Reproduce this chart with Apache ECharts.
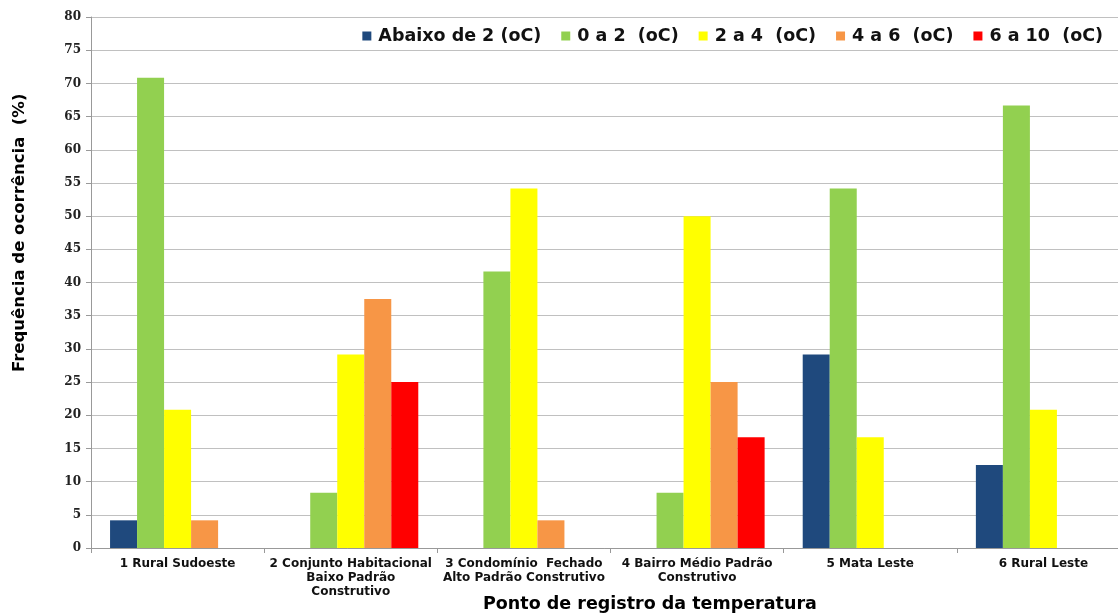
<!DOCTYPE html>
<html><head><meta charset="utf-8">
<script src="https://cdn.jsdelivr.net/npm/echarts@6/dist/echarts.min.js"></script>
<style>html,body{margin:0;padding:0;background:#fff}#c{width:1118px;height:615px}</style>
</head><body><div id="c"></div>
<script>
var categories = ['1 Rural Sudoeste','2 Conjunto Habitacional\nBaixo Padrão\nConstrutivo','3 Condomínio  Fechado\nAlto Padrão Construtivo','4 Bairro Médio Padrão\nConstrutivo','5 Mata Leste','6 Rural Leste'];
var seriesNames = ['Abaixo de 2 (oC)','0 a 2  (oC)','2 a 4  (oC)','4 a 6  (oC)','6 a 10  (oC)'];
var abaixo2 = [4.17, 0, 0, 0, 29.17, 12.5];
var de0a2 = [70.83, 8.33, 41.67, 8.33, 54.17, 66.67];
var de2a4 = [20.83, 29.17, 54.17, 50, 16.67, 20.83];
var de4a6 = [4.17, 37.5, 4.17, 25, 0, 0];
var de6a10 = [0, 25, 0, 16.67, 0, 0];
var colors = ['#1F497D','#92D050','#FFFF00','#F79646','#FF0000'];
var allData = [abaixo2, de0a2, de2a4, de4a6, de6a10];
var font = 'DejaVu Sans';
var chart = echarts.init(document.getElementById('c'));
chart.setOption({
  animation: false,
  color: colors,
  grid: {left: 91, width: 1039, top: 17, bottom: 67, outerBoundsMode: 'none', containLabel: false},
  legend: {
    right: 10, top: 22, itemWidth: 9, itemHeight: 9, itemGap: 20,
    icon: 'rect',
    textStyle: {fontFamily: font, fontWeight: 'bold', fontSize: 17.5, color: '#111', padding: [0,0,0,2]},
    data: seriesNames
  },
  xAxis: {
    type: 'category', data: categories,
    axisLine: {lineStyle: {color: '#999', width: 1}},
    axisTick: {show: true, length: 5, lineStyle: {color: '#999'}},
    axisLabel: {interval: 0, fontFamily: font, fontWeight: 'bold', fontSize: 12, color: '#111', lineHeight: 14, margin: 9}
  },
  yAxis: {
    type: 'value', min: 0, max: 80, interval: 5,
    axisLine: {show: true, lineStyle: {color: '#999'}},
    axisTick: {show: true, length: 5, lineStyle: {color: '#999'}},
    splitLine: {lineStyle: {color: '#c0c0c0'}},
    axisLabel: {fontFamily: 'DejaVu Serif', fontWeight: 'bold', fontSize: 12, color: '#222', margin: 10}
  },
  graphic: [
    {type: 'text', rotation: Math.PI/2, x: 11, y: 372, style: {text: 'Frequência de ocorrência  (%)', fontFamily: font, fontWeight: 'bold', fontSize: 16.5, fill: '#000'}},
    {type: 'text', left: 483, top: 595, style: {text: 'Ponto de registro da temperatura', fontFamily: font, fontWeight: 'bold', fontSize: 17.5, fill: '#000'}}
  ],
  series: allData.map(function(d, i){
    return {name: seriesNames[i], type: 'bar', data: d, barGap: '0%', barCategoryGap: '22%'};
  })
});
</script></body></html>
